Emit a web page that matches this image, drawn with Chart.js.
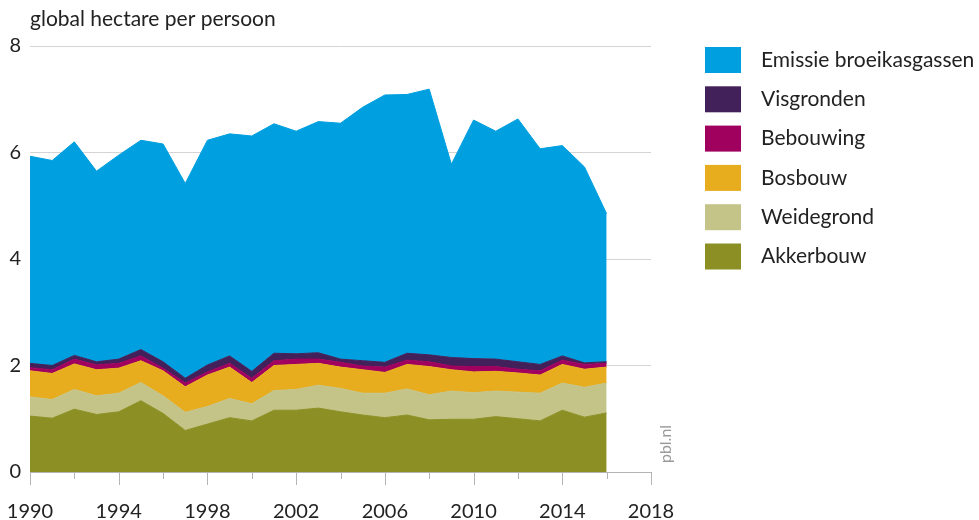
<!DOCTYPE html>
<html>
<head>
<meta charset="utf-8">
<script src="https://cdn.jsdelivr.net/npm/chart.js@4"></script>
<style>
  html, body { margin: 0; padding: 0; background: #fff; }
  #wrap { width: 979px; height: 520px; position: relative; }
</style>
</head>
<body>
<div id="wrap"><canvas id="footprint" width="979" height="520"></canvas></div>
<script>
// jaren 1990 t/m 2016
const years = [1990,1991,1992,1993,1994,1995,1996,1997,1998,1999,2000,2001,2002,2003,2004,2005,2006,2007,2008,2009,2010,2011,2012,2013,2014,2015,2016];

// global hectare per persoon, per component (gestapeld)
const akkerbouw  = [1.05,1.01,1.18,1.08,1.13,1.34,1.10,0.78,0.90,1.02,0.96,1.16,1.16,1.20,1.13,1.07,1.02,1.07,0.98,0.99,0.99,1.04,1.00,0.96,1.16,1.03,1.11];
const weidegrond = [0.36,0.35,0.37,0.35,0.35,0.34,0.33,0.34,0.33,0.36,0.32,0.37,0.39,0.43,0.44,0.41,0.46,0.49,0.47,0.53,0.50,0.48,0.50,0.52,0.51,0.56,0.56];
const bosbouw    = [0.49,0.49,0.48,0.49,0.47,0.41,0.47,0.48,0.59,0.59,0.40,0.47,0.47,0.41,0.40,0.44,0.39,0.46,0.53,0.40,0.39,0.37,0.36,0.34,0.35,0.34,0.30];
const bebouwing  = [0.06,0.07,0.09,0.09,0.09,0.09,0.05,0.07,0.06,0.07,0.08,0.09,0.10,0.08,0.09,0.07,0.10,0.08,0.09,0.07,0.10,0.09,0.07,0.08,0.08,0.09,0.07];
const visgronden = [0.08,0.08,0.07,0.06,0.08,0.12,0.12,0.09,0.13,0.14,0.13,0.14,0.10,0.12,0.06,0.10,0.09,0.13,0.13,0.16,0.15,0.14,0.14,0.12,0.08,0.03,0.03];
const emissie    = [3.89,3.85,4.01,3.58,3.83,3.93,4.09,3.66,4.22,4.17,4.42,4.31,4.18,4.34,4.43,4.76,5.02,4.86,4.99,3.63,4.48,4.28,4.56,4.05,3.95,3.68,2.78];

const xMin = 1990, xMax = 2018, xStep = 2;
const yMin = 0, yMax = 8, yStep = 2;

const FONT = 'Lato, "Open Sans", sans-serif';
const TEXT = '#222222';
const GRID = '#d4d4d4';
const AXIS = '#b4b4b4';

const series = [
  { label: 'Akkerbouw', data: akkerbouw, color: '#8c9024' },
  { label: 'Weidegrond', data: weidegrond, color: '#c4c489' },
  { label: 'Bosbouw', data: bosbouw, color: '#e8ac1f' },
  { label: 'Bebouwing', data: bebouwing, color: '#a0005e' },
  { label: 'Visgronden', data: visgronden, color: '#42205a' },
  { label: 'Emissie broeikasgassen', data: emissie, color: '#009fe0' }
];

function isMajor(v) { return (v - xMin) % 4 === 0; }

// titel, legenda, bronvermelding en tickjes (lang om de 4 jaar, kort ertussen)
const extras = {
  id: 'extras',
  afterDraw(chart) {
    const ctx = chart.ctx;
    const xs = chart.scales.x;
    const bottom = chart.chartArea.bottom;
    ctx.save();

    ctx.strokeStyle = AXIS;
    ctx.lineWidth = 1;
    xs.ticks.forEach(t => {
      const px = Math.round(xs.getPixelForValue(t.value)) + 0.5;
      ctx.beginPath();
      ctx.moveTo(px, bottom);
      ctx.lineTo(px, bottom + (isMajor(t.value) ? 13 : 7));
      ctx.stroke();
    });

    // eenheid linksboven
    ctx.fillStyle = TEXT;
    ctx.font = '21px ' + FONT;
    ctx.textAlign = 'left';
    ctx.textBaseline = 'alphabetic';
    ctx.fillText('global hectare per persoon', 30, 26);

    // legenda (bovenste laag eerst)
    const legend = series.slice().reverse();
    legend.forEach((s, i) => {
      const y = 47 + i * 39.3;
      ctx.fillStyle = s.color;
      ctx.fillRect(705, y, 36, 26);
      ctx.fillStyle = TEXT;
      ctx.textBaseline = 'middle';
      ctx.fillText(s.label, 761, y + 13);
    });

    // bron
    ctx.translate(666, 444);
    ctx.rotate(-Math.PI / 2);
    ctx.fillStyle = '#9a9a9a';
    ctx.font = '16px ' + FONT;
    ctx.textAlign = 'center';
    ctx.textBaseline = 'middle';
    ctx.fillText('pbl.nl', 0, 0);
    ctx.restore();
  }
};

const ctx = document.getElementById('footprint').getContext('2d');
new Chart(ctx, {
  type: 'line',
  data: {
    datasets: series.map((s, i) => ({
      label: s.label,
      data: years.map((yr, j) => ({ x: yr, y: s.data[j] })),
      backgroundColor: s.color,
      borderColor: s.color,
      borderWidth: 1,
      pointRadius: 0,
      tension: 0,
      fill: i === 0 ? 'origin' : '-1'
    }))
  },
  options: {
    responsive: false,
    animation: false,
    layout: { padding: { left: 0, top: 46, right: 328, bottom: 0 } },
    plugins: { legend: { display: false }, tooltip: { enabled: false } },
    scales: {
      x: {
        type: 'linear',
        min: xMin, max: xMax,
        afterFit: s => { s.height = 48; },
        grid: {
          drawOnChartArea: false,
          drawTicks: true,
          tickLength: 22,
          tickColor: 'transparent'
        },
        border: { display: true, color: AXIS, width: 1 },
        ticks: {
          stepSize: xStep,
          autoSkip: false,
          maxRotation: 0,
          padding: 6,
          color: TEXT,
          font: { family: FONT, size: 20 },
          callback: v => isMajor(v) ? String(v) : ''
        }
      },
      y: {
        stacked: true,
        min: yMin, max: yMax,
        afterFit: s => { s.width = 30; },
        grid: { color: GRID, drawTicks: false },
        border: { display: false },
        ticks: {
          stepSize: yStep,
          padding: 9,
          color: TEXT,
          font: { family: FONT, size: 20 }
        }
      }
    }
  },
  plugins: [extras]
});
</script>
</body>
</html>
